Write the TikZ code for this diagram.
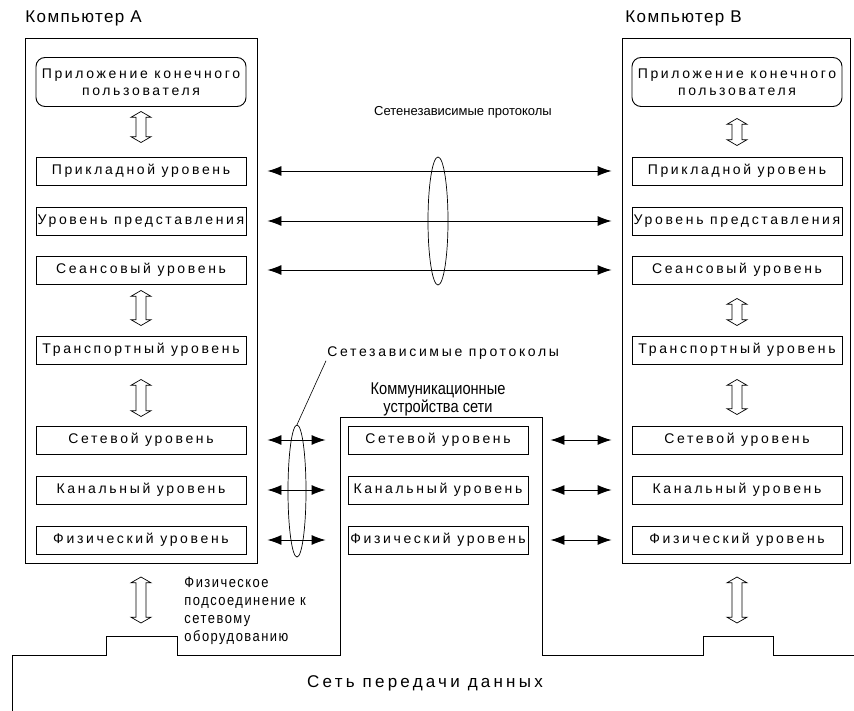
\documentclass[tikz,border=0pt]{standalone}
\usepackage{fontspec}
\setmainfont{Liberation Sans}
\newfontfamily\layerfont[LetterSpace=19]{Liberation Sans}
\newfontfamily\titlefont[LetterSpace=8]{Liberation Sans}
\newfontfamily\condfont[FakeStretch=0.86]{Liberation Sans}
\newfontfamily\phfont[FakeStretch=0.86,LetterSpace=10]{Liberation Sans}
\usetikzlibrary{arrows.meta,shapes.geometric,shapes.arrows,calc}
\begin{document}
\begin{tikzpicture}[x=1pt,y=-1pt,line width=0.9pt,
>={Latex[length=14pt,width=10pt]},
% common options for the layers:
layer/.style = {draw, rectangle, minimum width=210pt, minimum height=28pt,
            inner sep=0, font=\layerfont\fontsize{14}{16}\selectfont},
% common options for the application box:
app/.style = {layer, rounded corners=9pt, minimum height=49pt, align=center,
            font=\layerfont\fontsize{14}{17}\selectfont},
% common options for the hollow arrows:
updown/.style = {double arrow, draw, rotate=90, fill=white, inner xsep=0, inner ysep=4.5pt,
            minimum width=20pt, double arrow head extend=5pt, double arrow tip angle=120,
            line width=0.7pt},
% common options for the protocol ellipses:
lens/.style = {ellipse, draw, inner sep=0, line width=0.7pt},
txt/.style = {inner sep=1pt, font=\fontsize{14}{16}\selectfont}]
\useasboundingbox (0,0) rectangle (854,711);
% computers
\draw (25,38) rectangle (257,563);
\draw (622,38) rectangle (850,563);
\node[txt,anchor=west,font=\titlefont\fontsize{17}{19}\selectfont] (TA) at (24,18) {Компьютер А};
\node[txt,anchor=west,font=\titlefont\fontsize{17}{19}\selectfont] (TB) at (624,18) {Компьютер В};
\node[app] (A0) at (141,82) {Приложение конечного\\пользователя};
\node[layer] (A1) at (141,171) {Прикладной уровень};
\node[layer] (A2) at (141,221) {Уровень представления};
\node[layer] (A3) at (141,270) {Сеансовый уровень};
\node[layer] (A4) at (141,350) {Транспортный уровень};
\node[layer] (A5) at (141,440) {Сетевой уровень};
\node[layer] (A6) at (141,490) {Канальный уровень};
\node[layer] (A7) at (141,540) {Физический уровень};
\node[app] (B0) at (737,82) {Приложение конечного\\пользователя};
\node[layer] (B1) at (737,171) {Прикладной уровень};
\node[layer] (B2) at (737,221) {Уровень представления};
\node[layer] (B3) at (737,270) {Сеансовый уровень};
\node[layer] (B4) at (737,350) {Транспортный уровень};
\node[layer] (B5) at (737,440) {Сетевой уровень};
\node[layer] (B6) at (737,490) {Канальный уровень};
\node[layer] (B7) at (737,540) {Физический уровень};
% network and communication devices
\draw (12,711) -- (12,655) -- (106,655) -- (106,636) -- (177,636) -- (177,655)
  -- (340,655) -- (340,417) -- (542,417) -- (542,655) -- (703,655) -- (703,636)
  -- (773,636) -- (773,655) -- (854,655);
\node[txt,align=center,font=\condfont\fontsize{17}{18}\selectfont] (MC) at (438,399) {Коммуникационные\\устройства сети};
\node[layer,minimum width=180pt] (M1) at (438,440) {Сетевой уровень};
\node[layer,minimum width=180pt] (M2) at (438,490) {Канальный уровень};
\node[layer,minimum width=180pt] (M3) at (438,540) {Физический уровень};
\node[txt,font=\layerfont\fontsize{17}{19}\selectfont] (NET) at (425,683) {Сеть передачи данных};
\node[txt,anchor=north west,align=left,font=\phfont\fontsize{15}{18}\selectfont] (PH) at (183,576) {Физическое\\подсоединение к\\сетевому\\оборудованию};
% hollow arrows between layers
\node[updown,minimum height=31pt] (UA1) at (141,127) {};
\node[updown,minimum height=35pt] (UA2) at (141,308) {};
\node[updown,minimum height=37pt] (UA3) at (141,398) {};
\node[updown,minimum height=46pt] (UA4) at (141,600) {};
\node[updown,minimum height=27pt] (UB1) at (737,132) {};
\node[updown,minimum height=27pt] (UB2) at (737,312) {};
\node[updown,minimum height=35pt] (UB3) at (737,397) {};
\node[updown,minimum height=46pt] (UB4) at (737,600) {};
% peer protocols
\draw[<->] ([xshift=21pt]A1.east) -- ([xshift=-20pt]B1.west);
\draw[<->] ([xshift=21pt]A2.east) -- ([xshift=-20pt]B2.west);
\draw[<->] ([xshift=21pt]A3.east) -- ([xshift=-20pt]B3.west);
\draw[<->] ([xshift=21pt]A5.east) -- ([xshift=-22pt]M1.west);
\draw[<->] ([xshift=21pt]A6.east) -- ([xshift=-22pt]M2.west);
\draw[<->] ([xshift=21pt]A7.east) -- ([xshift=-22pt]M3.west);
\draw[<->] ([xshift=22pt]M1.east) -- ([xshift=-20pt]B5.west);
\draw[<->] ([xshift=22pt]M2.east) -- ([xshift=-20pt]B6.west);
\draw[<->] ([xshift=22pt]M3.east) -- ([xshift=-20pt]B7.west);
\node[lens,minimum width=20pt,minimum height=128pt] (L1) at (438,221) {};
\node[lens,minimum width=18pt,minimum height=132pt] (L2) at (297,491) {};
\node[txt,font=\fontsize{13}{15}\selectfont] (IND) at (463,112) {Сетенезависимые протоколы};
\node[txt,anchor=west,font=\layerfont\fontsize{14}{16}\selectfont] (DEP) at (326,353) {Сетезависимые протоколы};
\draw[line width=0.6pt] (L2.north) -- (DEP.south west);
\end{tikzpicture}
\end{document}
